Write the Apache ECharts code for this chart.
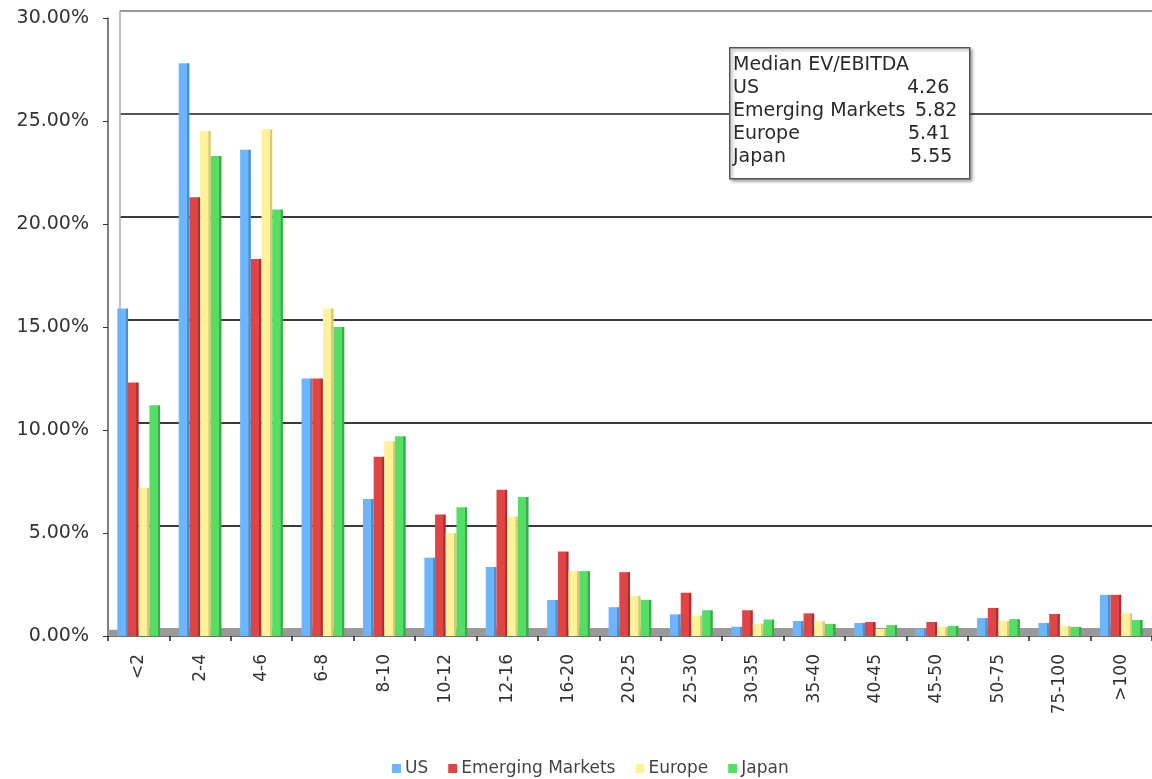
<!DOCTYPE html>
<html><head><meta charset="utf-8">
<script src="https://cdn.jsdelivr.net/npm/echarts@6/dist/echarts.min.js"></script>
<style>html,body{margin:0;padding:0;background:#fff}#c{width:1152px;height:779px}</style>
</head><body><div id="c"></div>
<script>
const categories = ['<2','2-4','4-6','6-8','8-10','10-12','12-16','16-20','20-25','25-30','30-35','35-40','40-45','45-50','50-75','75-100','>100'];
const us       = [15.9, 27.8, 23.6, 12.5, 6.65, 3.8, 3.35, 1.75, 1.4, 1.05, 0.45, 0.73, 0.63, 0.34, 0.87, 0.63, 2.0];
const emerging = [12.3, 21.3, 18.3, 12.5, 8.7, 5.9, 7.1, 4.1, 3.1, 2.1, 1.25, 1.1, 0.68, 0.68, 1.36, 1.07, 2.0];
const europe   = [7.2, 24.5, 24.6, 15.9, 9.45, 5.0, 5.8, 3.15, 1.95, 1.0, 0.6, 0.73, 0.34, 0.44, 0.73, 0.49, 1.1];
const japan    = [11.2, 23.3, 20.7, 15.0, 9.7, 6.25, 6.75, 3.15, 1.75, 1.25, 0.8, 0.58, 0.53, 0.49, 0.82, 0.44, 0.78];
const yTicks = [0, 5, 10, 15, 20, 25, 30];
const seriesNames = ['US', 'Emerging Markets', 'Europe', 'Japan'];
const boxTitle = 'Median EV/EBITDA';
const medianLabels = ['US', 'Emerging Markets', 'Europe', 'Japan'];
const medianValues = ['4.26', '5.82', '5.41', '5.55'];

const FONT = 'DejaVu Sans';
const COLORS = ['#6db6ff', '#e04545', '#fff29a', '#55dd66'];
const DARKS = ['#4a8ed4', '#b02e2e', '#d9cc6e', '#37ad47'];
const chart = echarts.init(document.getElementById('c'));
const grad = (c, d) => new echarts.graphic.LinearGradient(0, 0, 1, 0, [
  { offset: 0, color: c }, { offset: 0.76, color: c }, { offset: 0.8, color: d }, { offset: 1, color: d }]);
const allData = [us, emerging, europe, japan];
const barSeries = seriesNames.map((name, i) => ({
  name, type: 'bar', xAxisIndex: 0, yAxisIndex: 0,
  data: allData[i].map(v => ({ value: v, itemStyle: { color: grad(COLORS[i], DARKS[i]) } })),
  barWidth: 10.7, barGap: '0%',
  itemStyle: { color: COLORS[i] },
  z: 3
}));
const valueX = [907, 915, 908, 910];
const F = '19px "' + FONT + '"';
const boxGraphics = [
  { type: 'rect', left: 729, top: 47, shape: { width: 240, height: 131 },
    style: { fill: '#fff', stroke: '#555', lineWidth: 1.5, shadowBlur: 3, shadowOffsetX: 2, shadowOffsetY: 2, shadowColor: 'rgba(0,0,0,0.35)' }, z: 10 },
  { type: 'text', left: 733, top: 56, style: { text: boxTitle, font: F, fill: '#2a2a2a' }, z: 11 }
];
medianLabels.forEach((l, i) => {
  boxGraphics.push({ type: 'text', left: 733, top: 79 + i * 23, style: { text: l, font: F, fill: '#2a2a2a' }, z: 11 });
  boxGraphics.push({ type: 'text', left: valueX[i], top: 79 + i * 23, style: { text: medianValues[i], font: F, fill: '#2a2a2a' }, z: 11 });
});

chart.setOption({
  animation: false,
  backgroundColor: '#fff',
  textStyle: { fontFamily: FONT },
  color: COLORS,
  legend: {
    bottom: -3, left: 387, itemWidth: 9, itemHeight: 9, itemGap: 20, icon: 'rect',
    textStyle: { fontSize: 17, color: '#444', fontFamily: FONT, padding: [0, 0, 0, -1] },
    data: seriesNames
  },
  grid: [
    { left: 108, top: 18, bottom: 143, width: 1049, containLabel: false },
    { left: 120, top: 11, bottom: 150, right: 0, containLabel: false }
  ],
  xAxis: [
    { type: 'category', gridIndex: 0, data: categories,
      axisLine: { lineStyle: { color: '#444', width: 1.5 } },
      axisTick: { show: true, length: 5, lineStyle: { color: '#222', width: 1.5 } },
      axisLabel: { rotate: 90, margin: 18, fontSize: 17, color: '#333', fontFamily: FONT, interval: 0 } },
    { type: 'value', gridIndex: 1, min: 0, max: 1, show: false }
  ],
  yAxis: [
    { type: 'value', gridIndex: 0, min: yTicks[0], max: yTicks[yTicks.length - 1], interval: 5,
      axisLine: { show: true, lineStyle: { color: '#555', width: 1.5 } },
      axisTick: { show: true, length: 5, lineStyle: { color: '#333' } },
      splitLine: { show: false },
      axisLabel: { fontSize: 19, color: '#333', margin: 19, fontFamily: FONT, formatter: v => v.toFixed(2) + '%' } },
    { type: 'value', gridIndex: 1, min: 0, max: 30, interval: 5,
      axisLine: { show: true, lineStyle: { color: '#aaa', width: 1.5 } },
      axisTick: { show: false }, axisLabel: { show: false },
      splitLine: { show: true, lineStyle: { color: ['#999', '#3a3a3a', '#3a3a3a', '#3a3a3a', '#3a3a3a', '#555', '#999'], width: 2 } } }
  ],
  graphic: boxGraphics,
  series: barSeries.concat([
    { type: 'line', xAxisIndex: 0, yAxisIndex: 0, data: [], silent: true,
      markArea: { silent: true, itemStyle: { color: '#9a9a9a' }, data: [[{ yAxis: 0 }, { yAxis: 0.3 }]] } }
  ])
});
</script></body></html>
